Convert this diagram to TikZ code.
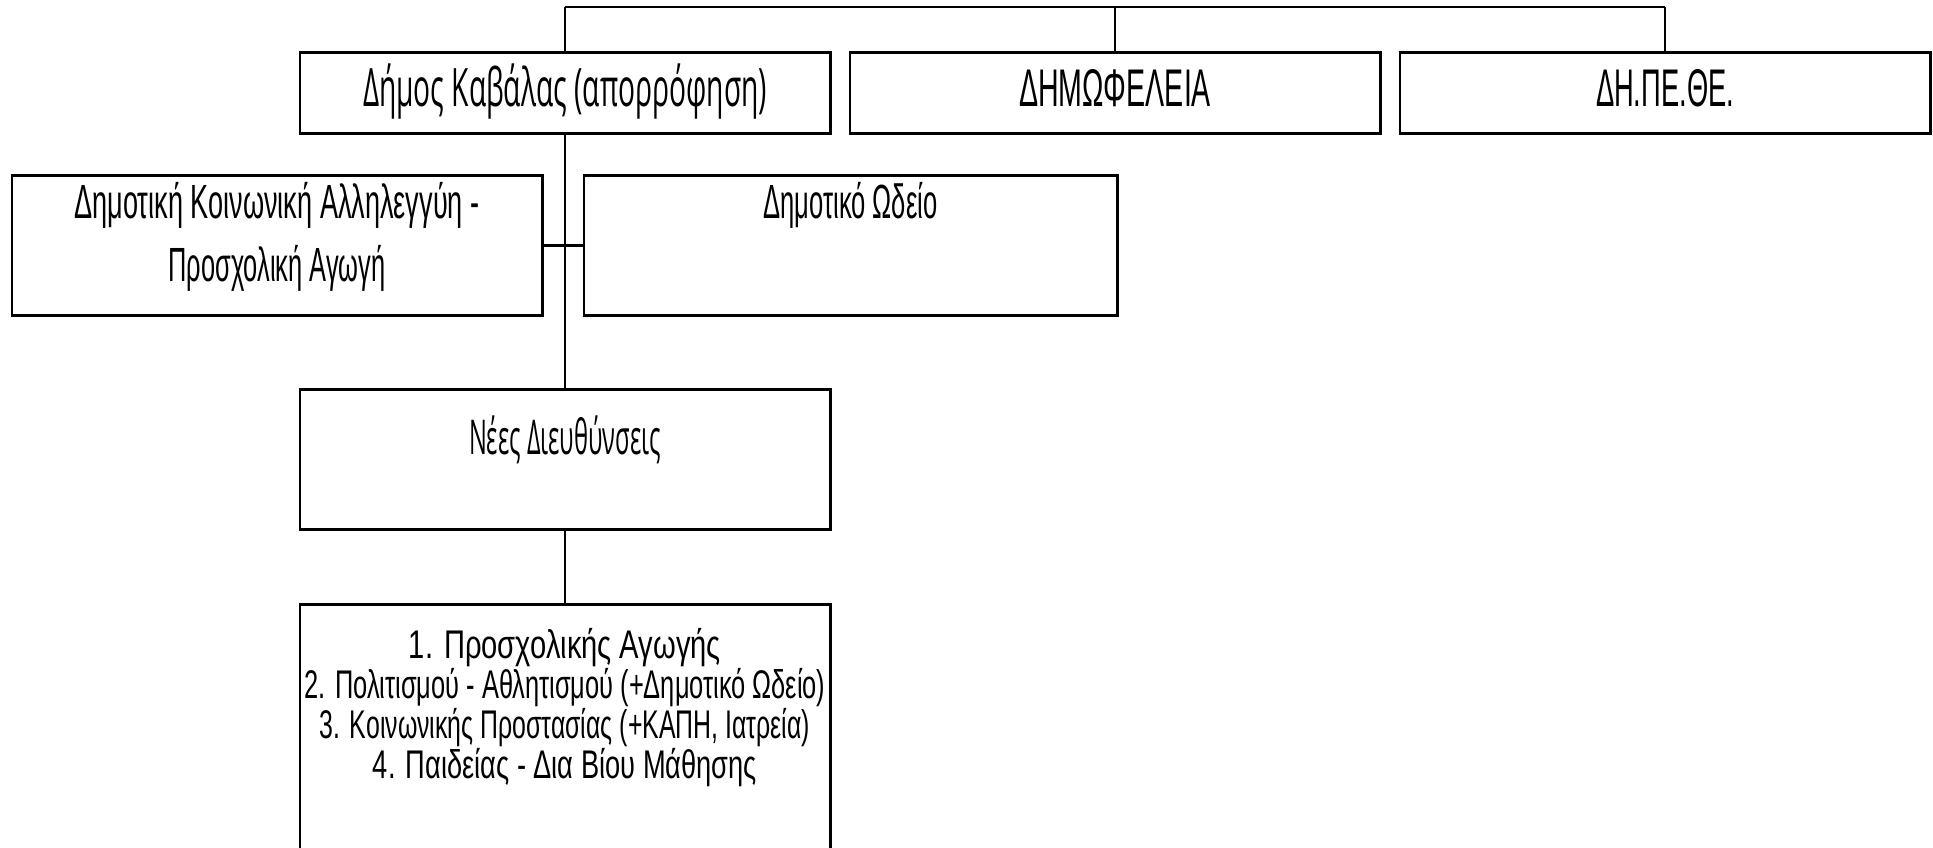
\documentclass[tikz,border=0pt]{standalone}
\usepackage{graphicx}
\usepackage{fontspec}
\setmainfont{Liberation Sans}
\newfontfamily\humfont{Open Sans}
% squeeze one line to a given width, keeping its height
\newcommand\sq[2]{\resizebox{#1}{\height}{#2}}
% centred lines with a fixed baseline distance; baseline = first line
\newcommand\lines[2]{\vtop{\baselineskip=#1\lineskiplimit=-1000pt\lineskip=0pt\halign{\hfil##\hfil\cr#2\crcr}}}
\newcommand\heavy[1]{\draw[line width=3pt] (#1.north west) -- (#1.north east) -- (#1.south east) -- (#1.south west);}
\begin{document}
\begin{tikzpicture}[x=1pt,y=-1pt,
  box/.style={draw, line width=1.8pt, inner sep=0pt},
  link/.style={line width=1.6pt},
  thicklink/.style={line width=2.8pt},
  rowone/.style={text height=26.8pt, text depth=0pt, minimum width=530pt, minimum height=80pt},
  rowtwo/.style={text height=0pt, text depth=54pt, minimum height=139pt, font=\fontsize{48}{50}\selectfont},
  humtop/.style={font=\humfont\fontsize{53}{60}\selectfont},
  captop/.style={font=\fontsize{53}{60}\selectfont},
  newtext/.style={font=\humfont\fontsize{48}{50}\selectfont},
  listtext/.style={font=\fontsize{40}{40}\selectfont}]
\useasboundingbox (0,0) rectangle (1933,848);
% row 1
\node[box, rowone, humtop] (b1) at (565,93) {\sq{404pt}{Δήμος Καβάλας (απορρόφηση)}};
\node[box, rowone, captop] (b2) at (1115,93) {\sq{192pt}{ΔΗΜΩΦΕΛΕΙΑ}};
\node[box, rowone, captop] (b3) at (1665,93) {\sq{138pt}{ΔΗ.ΠΕ.ΘΕ.}};
\coordinate (topbar) at (0,7);
% row 2
\node[box, rowtwo, minimum width=530pt] (ra) at (277,245.5) {\lines{63pt}{\sq{405pt}{Δημοτική Κοινωνική Αλληλεγγύη -}\cr\sq{217pt}{Προσχολική Αγωγή}}};
\node[box, rowtwo, minimum width=533pt] (rb) at (850.5,245.5) {\sq{174pt}{Δημοτικό Ωδείο}};
% row 3
\node[box, newtext, text height=0pt, text depth=10pt, minimum width=530pt, minimum height=139pt] (b4) at (565,459.5) {\sq{192pt}{Νέες Διευθύνσεις}};
% row 4 (runs past the lower edge)
\node[box, minimum width=530pt, minimum height=300pt, anchor=north] (b5) at (565,604) {};
\node[listtext, inner sep=0pt, anchor=base] (b5t) at (565,658) {\lines{40pt}{\sq{312pt}{1. Προσχολικής Αγωγής}\cr\sq{521pt}{2. Πολιτισμού - Αθλητισμού (+Δημοτικό Ωδείο)}\cr\sq{490pt}{3. Κοινωνικής Προστασίας (+ΚΑΠΗ, Ιατρεία)}\cr\sq{384pt}{4. Παιδείας - Δια Βίου Μάθησης}}};
\heavy{b1}\heavy{b2}\heavy{b3}\heavy{ra}\heavy{rb}\heavy{b4}\heavy{b5}
% connectors
\draw[link] (b1.north) -- (b1.north |- topbar);
\draw[link] (b2.north) -- (b2.north |- topbar);
\draw[link] (b3.north) -- (b3.north |- topbar);
\draw[thicklink] (b1.north |- topbar) -- (b3.north |- topbar);
\draw[link] (b1.south) -- (b4.north);
\draw[thicklink] (ra.east) -- (rb.west);
\draw[link] (b4.south) -- (b5.north);
\end{tikzpicture}
\end{document}
